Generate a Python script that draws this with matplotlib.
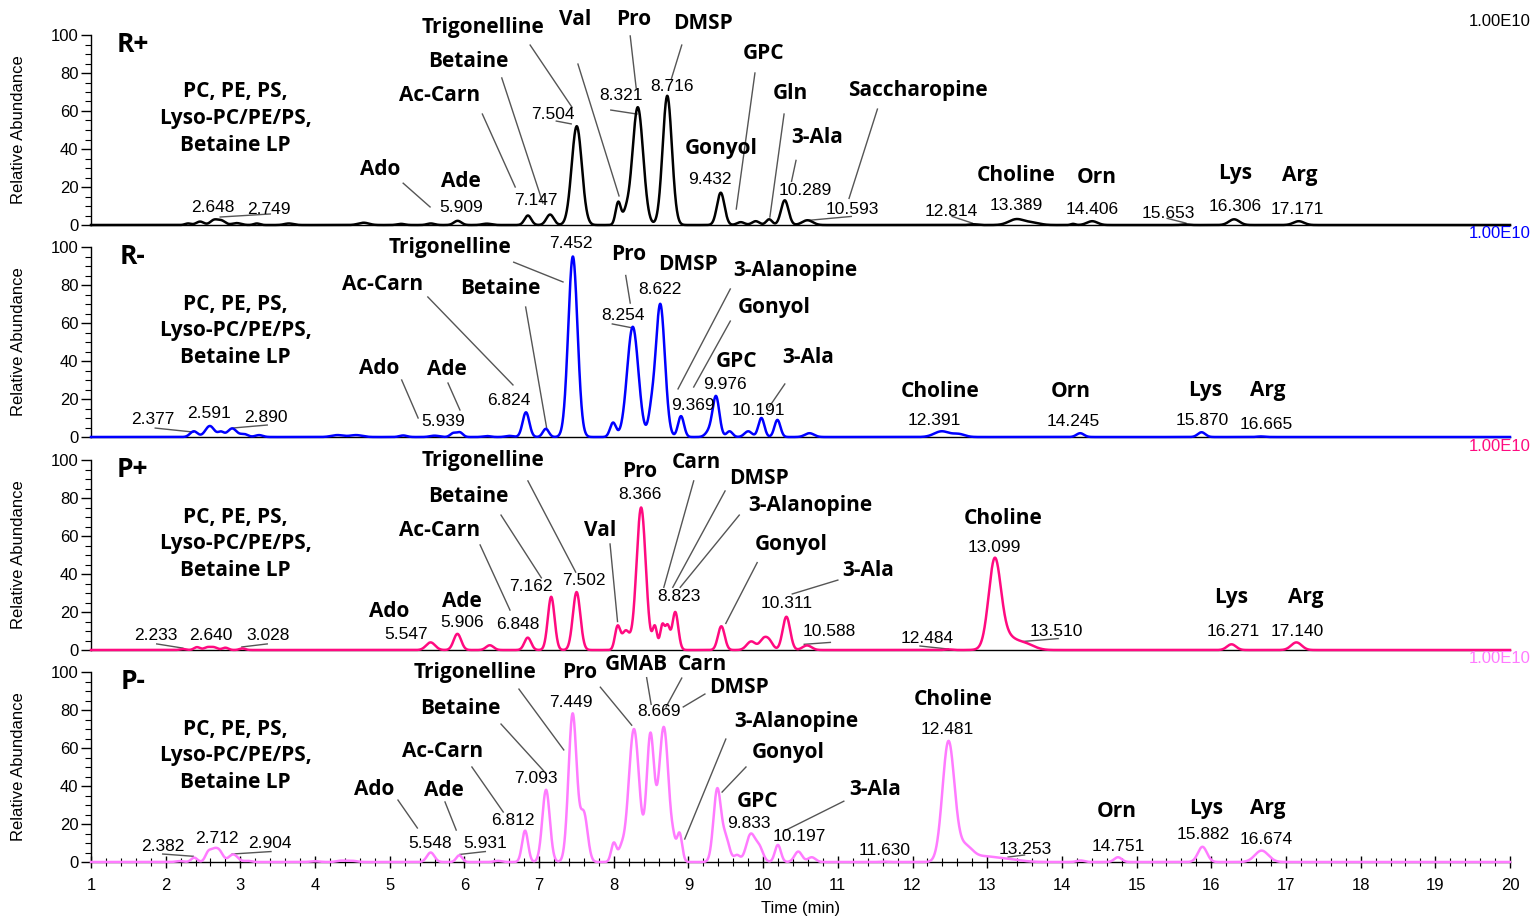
import numpy as np
import matplotlib.pyplot as plt
from matplotlib.ticker import MultipleLocator

plt.rcParams['font.family'] = ['Liberation Sans', 'DejaVu Sans']

# ---- peak tables: retention time (min), relative abundance (%), peak width sigma (min)
rplus_rt = [2.30, 2.46, 2.648, 2.749, 2.95, 3.22, 3.65, 4.65, 5.15, 5.55, 5.909, 6.30,
            6.85, 7.147, 7.504, 8.06, 8.16, 8.321, 8.716, 9.432, 9.70, 9.90, 10.08,
            10.289, 10.593, 12.814, 13.389, 13.60, 14.15, 14.406, 15.653, 16.306, 17.171]
rplus_h = [0.8, 1.8, 2.6, 2.2, 1.0, 0.8, 0.8, 1.2, 0.6, 0.8, 2.2, 0.7,
           5.0, 5.5, 52, 12, 5, 62, 68, 17, 1.5, 2.0, 3.0,
           13, 2.5, 0.4, 3.0, 1.2, 0.6, 2.0, 0.3, 3.0, 2.0]
rplus_w = [0.04, 0.05, 0.05, 0.05, 0.06, 0.04, 0.06, 0.07, 0.05, 0.05, 0.05, 0.06,
           0.045, 0.05, 0.068, 0.035, 0.04, 0.072, 0.062, 0.05, 0.05, 0.05, 0.04,
           0.05, 0.07, 0.05, 0.10, 0.10, 0.03, 0.07, 0.05, 0.07, 0.07]

rminus_rt = [2.377, 2.591, 2.74, 2.890, 3.05, 3.25, 4.30, 4.55, 5.18, 5.60, 5.85, 5.939,
             6.30, 6.60, 6.824, 7.09, 7.452, 7.99, 8.254, 8.50, 8.622, 8.90, 9.28, 9.369,
             9.55, 9.80, 9.976, 10.191, 10.62, 12.391, 12.62, 14.245, 15.870, 16.665]
rminus_h = [3.0, 5.8, 2.5, 4.5, 1.5, 1.0, 1.0, 1.0, 0.8, 0.7, 2.0, 2.4,
            0.5, 0.6, 13, 4.3, 95, 7.5, 58, 10, 70, 11, 3, 21,
            3, 3, 10, 9, 2, 3, 1.5, 2, 2.5, 0.3]
rminus_w = [0.05, 0.06, 0.04, 0.06, 0.05, 0.05, 0.08, 0.08, 0.05, 0.06, 0.04, 0.04,
            0.05, 0.05, 0.045, 0.04, 0.062, 0.04, 0.075, 0.04, 0.062, 0.04, 0.05, 0.045,
            0.04, 0.05, 0.04, 0.04, 0.06, 0.10, 0.08, 0.05, 0.05, 0.05]

pplus_rt = [2.233, 2.42, 2.55, 2.640, 2.80, 3.028, 5.547, 5.906, 6.34, 6.848, 7.162, 7.502,
            8.05, 8.16, 8.366, 8.55, 8.65, 8.72, 8.823, 9.44, 9.84, 10.00, 10.08, 10.311,
            10.588, 12.484, 13.099, 13.22, 13.510, 16.271, 17.140]
pplus_h = [0.5, 1.5, 1.2, 1.5, 1.2, 0.8, 4.0, 8.5, 2.5, 6.5, 28, 30.5,
           12, 10, 75, 12, 13, 12, 20, 12.5, 4.5, 5, 4.5, 17.5,
           2.4, 0.3, 43, 8, 3, 3, 4]
pplus_w = [0.04, 0.04, 0.04, 0.05, 0.04, 0.04, 0.06, 0.05, 0.05, 0.045, 0.045, 0.05,
           0.035, 0.05, 0.062, 0.03, 0.03, 0.03, 0.04, 0.045, 0.06, 0.05, 0.05, 0.05,
           0.06, 0.05, 0.08, 0.14, 0.12, 0.06, 0.07]

pminus_rt = [2.19, 2.382, 2.57, 2.64, 2.712, 2.904, 3.10, 4.00, 4.35, 4.50, 5.548, 5.931,
             6.45, 6.812, 7.093, 7.449, 7.60, 8.00, 8.10, 8.27, 8.49, 8.669, 8.80, 8.88,
             9.385, 9.50, 9.65, 9.833, 9.95, 10.197, 10.47, 10.65, 11.630, 12.481, 12.70,
             12.95, 13.253, 14.25, 14.751, 15.882, 16.674]
pminus_h = [0.5, 2.3, 5.0, 4.0, 6.0, 4.0, 0.6, 0.4, 0.7, 0.6, 5.0, 3.5,
            0.6, 16.5, 38, 78, 25, 10, 6, 70, 66, 71, 6, 15,
            38, 12, 3.5, 14.5, 7, 9, 5.5, 2.5, 0.2, 63, 8,
            2.5, 1.5, 0.8, 2.5, 8, 6]
pminus_w = [0.05, 0.04, 0.04, 0.04, 0.05, 0.06, 0.05, 0.06, 0.06, 0.06, 0.05, 0.04,
            0.05, 0.04, 0.05, 0.055, 0.05, 0.035, 0.04, 0.07, 0.05, 0.065, 0.03, 0.035,
            0.05, 0.05, 0.04, 0.06, 0.05, 0.04, 0.05, 0.05, 0.05, 0.08, 0.10,
            0.15, 0.18, 0.05, 0.05, 0.06, 0.09]

# ---- compound labels (text, time, abundance)
lipids = "PC, PE, PS,\nLyso-PC/PE/PS,\nBetaine LP"

rplus_names = [(lipids, 2.93, 56), ("Ado", 4.87, 29), ("Ade", 5.95, 23), ("Ac-Carn", 5.67, 68),
               ("Betaine", 6.05, 86), ("Trigonelline", 6.25, 104), ("Val", 7.48, 108),
               ("Pro", 8.26, 108), ("DMSP", 9.19, 106), ("GPC", 10.0, 90.5), ("Gonyol", 9.44, 40.5),
               ("Gln", 10.36, 69), ("3-Ala", 10.72, 46), ("Saccharopine", 12.07, 71),
               ("Choline", 13.39, 26), ("Orn", 14.47, 25), ("Lys", 16.32, 27), ("Arg", 17.19, 26)]
rminus_names = [(lipids, 2.93, 55.8), ("Ado", 4.86, 36.3), ("Ade", 5.77, 35.3), ("Ac-Carn", 4.90, 80.5),
                ("Betaine", 6.48, 78.4), ("Trigonelline", 5.81, 99.5), ("Pro", 8.2, 96.3),
                ("DMSP", 9.0, 91), ("3-Alanopine", 10.43, 87.4), ("Gonyol", 10.15, 68.4),
                ("GPC", 9.65, 39.5), ("3-Ala", 10.6, 42), ("Choline", 12.37, 23.7),
                ("Orn", 14.12, 23.7), ("Lys", 15.92, 24.7), ("Arg", 16.75, 24.7)]
pplus_names = [(lipids, 2.93, 55.8), ("Ado", 4.99, 20.5), ("Ade", 5.97, 25.3), ("Ac-Carn", 5.67, 63),
               ("Betaine", 6.05, 81), ("Trigonelline", 6.25, 99.5), ("Val", 7.82, 63),
               ("Pro", 8.35, 94.2), ("Carn", 9.11, 98.9), ("DMSP", 9.94, 90.5),
               ("3-Alanopine", 10.63, 75.8), ("Gonyol", 10.37, 55.3), ("3-Ala", 11.4, 42),
               ("Choline", 13.21, 69), ("Lys", 16.26, 27.4), ("Arg", 17.26, 27.4)]
pminus_names = [(lipids, 2.93, 55.8), ("Ado", 4.79, 38.4), ("Ade", 5.73, 37.4), ("Ac-Carn", 5.71, 58.4),
                ("Betaine", 5.95, 81), ("Trigonelline", 6.14, 99.5), ("Pro", 7.55, 99.5),
                ("GMAB", 8.3, 104), ("Carn", 9.19, 104), ("DMSP", 9.68, 92),
                ("3-Alanopine", 10.45, 74.2), ("Gonyol", 10.33, 57.4), ("GPC", 9.93, 32.1),
                ("3-Ala", 11.5, 37.9), ("Choline", 12.54, 85.3), ("Orn", 14.73, 26.8),
                ("Lys", 15.93, 28.4), ("Arg", 16.76, 28.4)]

# ---- retention time labels (peak rt, label time, label abundance)
rplus_times = [(2.648, 2.63, 9), (2.749, 3.38, 8), (5.909, 5.95, 9), (7.147, 6.96, 13),
               (7.504, 7.19, 58), (8.321, 8.10, 68), (8.716, 8.78, 73), (9.432, 9.29, 24),
               (10.289, 10.57, 18), (10.593, 11.19, 8), (12.814, 12.52, 7), (13.389, 13.39, 10),
               (14.406, 14.40, 8), (15.653, 15.42, 6), (16.306, 16.32, 9.5), (17.171, 17.15, 8)]
rminus_times = [(2.377, 1.83, 9), (2.591, 2.58, 12.6), (2.890, 3.34, 10.5), (5.939, 5.71, 7.9),
                (6.824, 6.60, 19), (7.452, 7.43, 101.6), (8.254, 8.12, 63.7), (8.622, 8.62, 77.4),
                (9.369, 9.06, 16.8), (9.976, 9.49, 27.4), (10.191, 9.94, 14.2), (12.391, 12.29, 8.9),
                (14.245, 14.15, 7.9), (15.870, 15.88, 8.9), (16.665, 16.73, 6.8)]
pplus_times = [(2.233, 1.87, 7.4), (2.640, 2.61, 7.4), (3.028, 3.37, 7.4), (5.547, 5.22, 7.9),
               (5.906, 5.97, 14.7), (6.848, 6.72, 13.2), (7.162, 6.89, 33.2), (7.502, 7.6, 36.8),
               (8.366, 8.35, 81.6), (8.823, 8.87, 28.4), (10.311, 10.32, 24.7), (10.588, 10.88, 9.5),
               (12.484, 12.19, 6.3), (13.099, 13.1, 53.7), (13.510, 13.92, 10), (16.271, 16.29, 9.5),
               (17.140, 17.15, 9.5)]
pminus_times = [(2.382, 1.96, 8.4), (2.712, 2.69, 12.6), (2.904, 3.4, 10), (5.548, 5.54, 10),
                (5.931, 6.28, 10), (6.812, 6.65, 22.1), (7.093, 6.96, 43.7), (7.449, 7.43, 84.2),
                (8.669, 8.61, 79), (9.833, 9.81, 20.5), (10.197, 10.49, 13.2), (11.630, 11.63, 5.8),
                (12.481, 12.46, 70), (13.253, 13.51, 6.8), (14.751, 14.75, 8.4), (15.882, 15.89, 14.7),
                (16.674, 16.73, 11.6)]

# ---- leader lines (x0, y0, x1, y1)
rplus_leaders = [(5.18, 22, 5.54, 9.5), (2.73, 4.2, 3.40, 5.8), (6.24, 58.4, 6.68, 20),
                 (6.5, 77.4, 7.05, 11.6), (6.88, 94.7, 7.44, 62), (7.52, 84.7, 8.07, 15.3),
                 (8.22, 99.5, 8.30, 72), (7.96, 60.5, 8.31, 58.4), (8.91, 94.7, 8.77, 76.8),
                 (7.23, 54.7, 7.43, 53.2), (9.89, 80, 9.64, 8.4), (10.28, 58.4, 10.09, 4.2),
                 (10.44, 34, 10.38, 23), (11.53, 61, 11.15, 14), (10.62, 2.5, 11.18, 4.5),
                 (12.53, 4.5, 12.8, 1.0), (15.41, 3.5, 15.66, 1.0)]
rminus_leaders = [(1.86, 4.7, 2.37, 2.6), (2.89, 4.7, 3.36, 6.3), (5.16, 30, 5.38, 10),
                  (5.78, 28.4, 5.94, 14.2), (5.51, 73.7, 6.65, 27.4), (6.82, 68.4, 7.10, 5),
                  (6.66, 92, 7.32, 81.6), (8.16, 85, 8.22, 70.5), (9.56, 77.9, 8.86, 25.3),
                  (9.56, 61, 9.07, 26.3), (10.29, 27.9, 10.08, 15.8), (7.98, 59.5, 8.24, 57.5)]
pplus_leaders = [(1.88, 3.2, 2.23, 1.0), (3.02, 1.6, 3.36, 3.2), (6.21, 55.3, 6.61, 21),
                 (6.49, 71, 7.03, 38), (6.85, 89, 7.49, 41), (7.95, 55.8, 8.05, 15),
                 (9.07, 89, 8.67, 33), (9.49, 83.7, 8.79, 33), (9.68, 71, 8.89, 33),
                 (9.92, 46, 9.5, 14), (11.0, 36.8, 10.39, 29.5), (10.55, 3, 10.9, 4),
                 (12.1, 2.1, 12.48, 0.5), (13.48, 4.5, 13.95, 6)]
pminus_leaders = [(1.96, 4.2, 2.37, 3.0), (2.89, 4.2, 3.41, 5.5), (5.11, 32.6, 5.37, 17.9),
                  (5.74, 31.6, 5.89, 16.8), (5.94, 4.0, 6.28, 5.5), (6.1, 50, 6.52, 26.3),
                  (6.49, 72.6, 7.06, 48), (6.73, 91, 7.33, 59), (7.82, 92, 8.24, 72),
                  (8.44, 97, 8.5, 83), (8.91, 96.8, 8.7, 81.6), (9.22, 88.4, 8.93, 81.6),
                  (9.5, 64.7, 8.95, 12.1), (9.77, 50, 9.45, 36.8), (11.08, 32, 10.29, 16.5),
                  (13.28, 2.6, 13.5, 3.7)]

time = np.linspace(1, 20, 8000)


def chromatogram(rt, height, sigma):
    y = np.zeros_like(time)
    for r, h, s in zip(rt, height, sigma):
        y += h * np.exp(-0.5 * ((time - r) / s) ** 2)
    return y


panels = [
    ("R+", "black", rplus_rt, rplus_h, rplus_w, rplus_names, rplus_times, rplus_leaders),
    ("R-", "#0000FF", rminus_rt, rminus_h, rminus_w, rminus_names, rminus_times, rminus_leaders),
    ("P+", "#FF0A80", pplus_rt, pplus_h, pplus_w, pplus_names, pplus_times, pplus_leaders),
    ("P-", "#FF7BFF", pminus_rt, pminus_h, pminus_w, pminus_names, pminus_times, pminus_leaders),
]

fig = plt.figure(figsize=(15.32, 9.18), dpi=100)
left, width, height = 91 / 1532, 1419 / 1532, 190 / 918
bottoms = [693 / 918, 481 / 918, 268 / 918, 56 / 918]

bold = dict(family=['Open Sans', 'DejaVu Sans'], weight='bold')

for i, (tag, color, rt, h, w, names, times, leaders) in enumerate(panels):
    ax = fig.add_axes([left, bottoms[i], width, height])
    ax.plot(time, chromatogram(rt, h, w), color=color, lw=1.8, clip_on=False, zorder=3)
    ax.set_xlim(1, 20)
    ax.set_ylim(0, 100)
    for side in ("top", "right"):
        ax.spines[side].set_visible(False)
    ax.spines["bottom"].set_linewidth(1.0)
    ax.spines["left"].set_linewidth(1.0)

    ax.yaxis.set_major_locator(MultipleLocator(20))
    ax.yaxis.set_minor_locator(MultipleLocator(5))
    ax.tick_params(axis='y', which='major', length=7, width=1, labelsize=12, pad=2)
    ax.tick_params(axis='y', which='minor', length=4, width=0.8)
    ax.set_ylabel("Relative Abundance", fontsize=12)
    ax.yaxis.set_label_coords(-0.046, 0.5)

    if i < 3:
        ax.tick_params(axis='x', which='both', bottom=False, labelbottom=False)
    else:
        ax.xaxis.set_major_locator(MultipleLocator(1))
        ax.xaxis.set_minor_locator(MultipleLocator(0.2))
        ax.tick_params(axis='x', which='major', direction='inout', length=9, width=1,
                       labelsize=12, pad=7)
        ax.tick_params(axis='x', which='minor', direction='inout', length=6, width=0.8)
        ax.set_xlabel("Time (min)", fontsize=12, labelpad=6)

    ax.text(1.56, 95, tag, fontsize=19, ha='center', va='center', **bold)
    ax.text(20.27, 107, "1.00E10", fontsize=12, color=color, ha='right', va='center')

    for text, x, y in names:
        ax.text(x, y, text, fontsize=15, ha='center', va='center', linespacing=1.35, **bold)
    for value, x, y in times:
        ax.text(x, y, f"{value:.3f}", fontsize=12.5, ha='center', va='center')
    for x0, y0, x1, y1 in leaders:
        ax.plot([x0, x1], [y0, y1], color='#555555', lw=1.0, clip_on=False, zorder=2)

fig.savefig("out.png", dpi=100)
